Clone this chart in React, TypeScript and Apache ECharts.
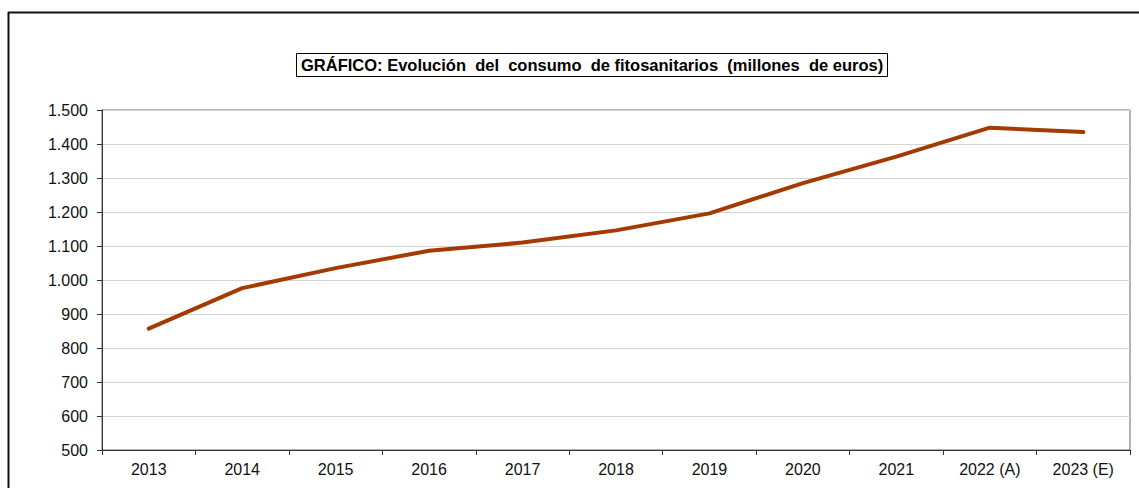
import React, { useEffect, useRef } from "react";
import * as echarts from "echarts";

const categories = ["2013", "2014", "2015", "2016", "2017", "2018", "2019", "2020", "2021", "2022 (A)", "2023 (E)"];
const consumo = [857, 976, 1035, 1086, 1110, 1146, 1196, 1285, 1363, 1448, 1435];
const titleText = "GRÁFICO: Evolución  del  consumo  de fitosanitarios  (millones  de euros)";

const fmt = (v: number) => String(v).replace(/\B(?=(\d{3})+(?!\d))/g, ".");

export default function App() {
  const ref = useRef<HTMLDivElement>(null);
  useEffect(() => {
    if (!ref.current) return;
    const chart = echarts.init(ref.current, null, { renderer: "svg" });
    const font = "'Liberation Sans', Arial, sans-serif";
    chart.setOption({
      animation: false,
      backgroundColor: "#ffffff",
      title: {
        text: titleText,
        left: 296,
        top: 53,
        padding: [3, 5, 3, 5],
        borderWidth: 1,
        borderColor: "#000",
        textStyle: { fontFamily: font, fontSize: 16.5, lineHeight: 18, fontWeight: "bold", color: "#000" },
      },
      grid: { left: 102, right: 9, top: 110, bottom: 38, show: true, borderColor: "#666", borderWidth: 1, backgroundColor: "transparent" },
      xAxis: {
        type: "category",
        data: categories,
        boundaryGap: true,
        axisLine: { lineStyle: { color: "#333", width: 1 } },
        axisTick: { show: true, length: 5, lineStyle: { color: "#333" }, interval: 0 },
        axisLabel: { color: "#111", fontFamily: font, fontSize: 16, margin: 11, interval: 0 },
        splitLine: { show: false },
      },
      yAxis: {
        type: "value",
        min: 500,
        max: 1500,
        interval: 100,
        axisLine: { show: true, lineStyle: { color: "#333", width: 1 } },
        axisTick: { show: true, length: 5, lineStyle: { color: "#333" } },
        axisLabel: { color: "#111", fontFamily: font, fontSize: 16, margin: 14, formatter: (v: number) => fmt(v) },
        splitLine: { show: true, lineStyle: { color: "#d4d4d4", width: 1 } },
      },
      graphic: [
        { type: "line", shape: { x1: 8, y1: 12.5, x2: 1139, y2: 12.5 }, style: { stroke: "#111", lineWidth: 2 } },
        { type: "line", shape: { x1: 8.5, y1: 12, x2: 8.5, y2: 488 }, style: { stroke: "#111", lineWidth: 2 } },
      ],
      series: [
        {
          type: "line",
          data: consumo,
          symbol: "none",
          lineStyle: { color: "#a33a00", width: 4, cap: "round", join: "round" },
        },
      ],
    });
    return () => chart.dispose();
  }, []);
  return <div ref={ref} style={{ position: "absolute", left: 0, top: 0, width: 1139, height: 488 }} />;
}
